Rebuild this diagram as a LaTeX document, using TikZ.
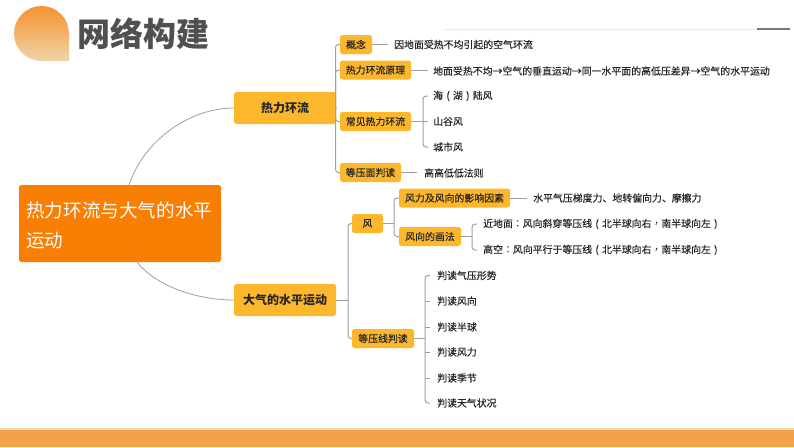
\documentclass[tikz,border=0pt]{standalone}
\usepackage{fontspec}
\setmainfont{Noto Sans CJK SC}
\newfontfamily\tcf{Noto Sans CJK TC}
\newcommand{\tp}[1]{{\tcf #1}}
\newcommand{\fp}[1]{\makebox[1em][c]{#1}}
\definecolor{boxy}{HTML}{FDB72C}
\definecolor{rootc}{HTML}{F97F04}
\definecolor{ln}{HTML}{A0A0A0}
\definecolor{txt}{HTML}{262626}
\definecolor{band}{HTML}{F3A24C}
\definecolor{bandlight}{RGB}{250,214,165}
\definecolor{haze}{RGB}{243,250,252}
\definecolor{rulelight}{RGB}{236,236,236}
\definecolor{ruledark}{RGB}{120,120,120}
\definecolor{droptop}{RGB}{245,146,48}
\definecolor{dropbot}{RGB}{239,212,168}
\definecolor{titlec}{RGB}{80,80,80}
\tikzset{
 x=1pt,y=-1pt,
 l1/.style={fill=boxy,rounded corners=2.5pt,inner sep=0pt,font=\fontsize{12}{12}\selectfont\bfseries,text=txt,anchor=center},
 l2/.style={fill=boxy,rounded corners=2.5pt,inner sep=0pt,font=\fontsize{9.9}{11}\selectfont\addfontfeatures{FakeBold=0.25},text=txt,anchor=center},
 leaf/.style={inner sep=0pt,anchor=west,font=\fontsize{9.9}{11}\selectfont\addfontfeatures{FakeBold=0.25},text=txt},
 conn/.style={draw=ln,line width=1pt,rounded corners=3pt},
 curve/.style={draw=ln,line width=0.8pt},
}
\newcommand{\bx}[7]{\node[#1,minimum width=#4pt-#2pt,minimum height=#5pt-#3pt] (#6) at ({(#2+#4)/2},{(#3+#5)/2}) {#7};}
\begin{document}
\begin{tikzpicture}
\useasboundingbox (0,0) rectangle (794,447);
\fill[white] (0,0) rectangle (794,447);
% footer
\shade[top color=white,bottom color=haze] (0,420) rectangle (794,428);
\fill[bandlight] (0,428) rectangle (794,429.5);
\fill[band] (0,429.5) rectangle (794,447);
% header rule
\fill[rulelight] (443,28.7) rectangle (757,29.9);
\fill[ruledark] (757,28.2) rectangle (790,30.4);
% title drop
\shade[top color=droptop,bottom color=dropbot]
 (69,61) -- (41.5,61) .. controls (26.3,61) and (14,48.7) .. (14,33.5) .. controls (14,18.3) and (26.3,6) .. (41.5,6) .. controls (56.7,6) and (69,18.3) .. (69,33.5) -- cycle;
\node[inner sep=0pt,anchor=center,text=titlec,font=\fontsize{33}{33}\selectfont\bfseries] (title) at (143.5,34) {网络构建};
% root
\node[fill=rootc,rounded corners=2.5pt,minimum width=202pt,minimum height=77pt,inner sep=0pt] (root) at (120,223.5) {};
\node[inner sep=0pt,anchor=west,text=white,font=\fontsize{18.6}{18.6}\selectfont] (r1) at (26,210.5) {热力环流与大气的水平};
\node[inner sep=0pt,anchor=west,text=white,font=\fontsize{18.6}{18.6}\selectfont] (r2) at (26,240.5) {运动};
% level 1
\bx{l1}{234}{92}{336}{124}{heat}{热力环流}
\bx{l1}{234}{284}{336}{316}{air}{大气的水平运动}
\draw[curve] (129,185) .. controls (144,140) and (190,108) .. (heat.west);
\draw[curve] (137,262) .. controls (155,285) and (195,300) .. (air.west);
% level 2 upper
\bx{l2}{340}{35}{372}{54}{a1}{概念}
\bx{l2}{340}{60.5}{411}{79.5}{a2}{热力环流原理}
\bx{l2}{340}{112}{411}{131}{a3}{常见热力环流}
\bx{l2}{340}{163}{401}{182}{a4}{等压面判读}
\coordinate (s1) at (335.5,108);
\draw[conn] (heat.east) -- (s1);
\draw[conn] (a1.west) -- (335.5,44.5) -- (335.5,172.5) -- (a4.west);
\draw[conn] (s1) |- (a2.west);
\draw[conn] (s1) |- (a3.west);
% leaves upper
\node[leaf] (b1) at (394,44.5) {因地面受热不均引起的空气环流};
\node[leaf] (b2) at (433,71) {地面受热不均→空气的垂直运动→同一水平面的高低压差异→空气的水平运动};
\node[leaf] (c1) at (433,96) {海\fp{(}湖\fp{)}陆风};
\node[leaf] (c2) at (433,121.5) {山谷风};
\node[leaf] (c3) at (433,147) {城市风};
\node[leaf] (b4) at (424,173) {高高低低法则};
\draw[conn] (a1.east) -- ++(16,0);
\draw[conn] (a2.east) -- ++(17,0);
\draw[conn] (a4.east) -- ++(16,0);
\draw[conn] (a3.east) -- (428,121.5);
\draw[conn] (428,96) -- (423,96) -- (423,147) -- (428,147);
% wind
\bx{l2}{352}{214}{383}{233}{w}{风}
\bx{l2}{352}{329}{414}{348}{iso}{等压线判读}
\bx{l2}{399}{188.5}{510}{207.5}{w1}{风力及风向的影响因素}
\bx{l2}{399}{227}{461}{246}{w2}{风向的画法}
\coordinate (s2) at (348,300);
\draw[conn] (air.east) -- (s2);
\draw[conn] (w.west) -- (348,223.5) -- (348,338.5) -- (iso.west);
\draw[conn] (w.east) -- (394,223.5);
\draw[conn] (w1.west) -- (394,198) -- (394,236.5) -- (w2.west);
\draw[conn] (w1.east) -- ++(17,0);
\node[leaf] (w1t) at (533,198) {水平气压梯度力、地转偏向力、摩擦力};
\draw[conn] (w2.east) -- (472,236.5);
\draw[conn] (477,224) -- (472,224) -- (472,250) -- (477,250);
\node[leaf] (w2a) at (483,224) {近地面\tp{：}风向斜穿等压线\fp{(}北半球向右\tp{，}南半球向左\fp{)}};
\node[leaf] (w2b) at (483,250) {高空\tp{：}风向平行于等压线\fp{(}北半球向右\tp{，}南半球向左\fp{)}};
% iso
\draw[conn] (iso.east) -- (425,338.5);
\draw[conn] (430,275.5) -- (425,275.5) -- (425,403) -- (430,403);
\foreach \y in {301,327,352,378}{\draw[conn] (425,\y) -- (430,\y);}
\node[leaf] (i1) at (437,275.5) {判读气压形势};
\node[leaf] (i2) at (437,301) {判读风向};
\node[leaf] (i3) at (437,327) {判读半球};
\node[leaf] (i4) at (437,352) {判读风力};
\node[leaf] (i5) at (437,378) {判读季节};
\node[leaf] (i6) at (437,403) {判读天气状况};
\end{tikzpicture}
\end{document}
